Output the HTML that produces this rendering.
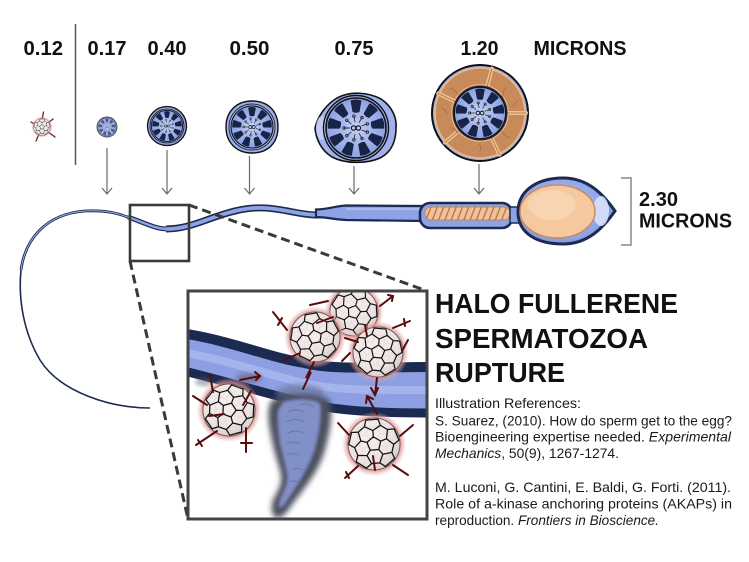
<!DOCTYPE html>
<html><head><meta charset="utf-8"><style>
html,body{margin:0;padding:0;background:#fff;}
svg{display:block;}
</style></head><body>
<svg width="749" height="562" viewBox="0 0 749 562" xmlns="http://www.w3.org/2000/svg" xmlns:xlink="http://www.w3.org/1999/xlink">
<defs>
 <radialGradient id="halo"><stop offset="0.8" stop-color="#d98a8a" stop-opacity="0.9"/><stop offset="1" stop-color="#e8b0b0" stop-opacity="0"/></radialGradient>
 <radialGradient id="hg" cx=".45" cy=".45" r=".6"><stop offset="0" stop-color="#b4c4f6"/><stop offset=".8" stop-color="#8ea2e6"/><stop offset="1" stop-color="#7088d8"/></radialGradient>
 <radialGradient id="axg" cx=".5" cy=".5" r=".5"><stop offset="0" stop-color="#c4cff6"/><stop offset="1" stop-color="#8b9fe2"/></radialGradient>
 <radialGradient id="ballg" cx=".4" cy=".38" r=".65"><stop offset="0" stop-color="#f6eeee"/><stop offset=".7" stop-color="#efe4e4"/><stop offset="1" stop-color="#d9cccc"/></radialGradient>
 <filter id="bl" x="-40%" y="-40%" width="180%" height="180%"><feGaussianBlur stdDeviation="2.2"/></filter>
 <filter id="bl3" x="-40%" y="-40%" width="180%" height="180%"><feGaussianBlur stdDeviation="3"/></filter>
 <filter id="bl1" x="-40%" y="-40%" width="180%" height="180%"><feGaussianBlur stdDeviation="1.5"/></filter>
 <clipPath id="insetclip"><rect x="189.5" y="292.5" width="236" height="225"/></clipPath>
 <clipPath id="helixclip"><rect x="425" y="207" width="85" height="13" rx="6"/></clipPath>

 <g id="fbe"><path fill="none" stroke-linejoin="round" d="M0,-.28 L.266,-.087 L.165,.227 L-.165,.227 L-.266,-.087 Z
 M0,-.28 L0,-.52 M.266,-.087 L.495,-.161 M.165,.227 L.306,.421 M-.165,.227 L-.306,.421 M-.266,-.087 L-.495,-.161
 M-.309,-.694 L0,-.52 L.309,-.694
 M.565,-.509 L.495,-.161 L.756,.079
 M.658,.38 L.306,.421 L.158,.743
 M-.158,.743 L-.306,.421 L-.658,.38
 M-.756,.079 L-.495,-.161 L-.565,-.509
 M.309,-.694 L.565,-.509
 M.756,.079 L.658,.38
 M.158,.743 L-.158,.743
 M-.658,.38 L-.756,.079
 M-.565,-.509 L-.309,-.694
 M-.309,-.694 L-.235,-.941 L.235,-.941 L.309,-.694
 M.565,-.509 L.823,-.514 L.968,-.068 L.756,.079
 M.658,.38 L.743,.624 L.364,.899 L.158,.743
 M-.158,.743 L-.364,.899 L-.743,.624 L-.658,.38
 M-.756,.079 L-.968,-.068 L-.823,-.514 L-.565,-.509"/></g>
 <g id="fb">
  <circle r="1.24" fill="url(#halo)"/>
  <circle r="1" fill="url(#ballg)" stroke="#7a5a5a" stroke-width=".04"/>
  <use xlink:href="#fbe" href="#fbe" transform="rotate(36) scale(.9)" stroke="#e0d6d6" stroke-width=".025"/>
  <use xlink:href="#fbe" href="#fbe" stroke="#111" stroke-width=".048"/>
 </g>

 <path id="blob" d="M-5.5,-27.5 Q0,-29.5 5.5,-27.5 L3.5,-16 Q0,-14.5 -3.5,-16 Z" fill="#172448"/>
 <g id="ax">
  <circle r="30" fill="url(#axg)" stroke="#111" stroke-width="1.6"/>
  <use href="#blob" xlink:href="#blob"/>
  <use href="#blob" xlink:href="#blob" transform="rotate(40)"/>
  <use href="#blob" xlink:href="#blob" transform="rotate(80)"/>
  <use href="#blob" xlink:href="#blob" transform="rotate(120)"/>
  <use href="#blob" xlink:href="#blob" transform="rotate(160)"/>
  <use href="#blob" xlink:href="#blob" transform="rotate(200)"/>
  <use href="#blob" xlink:href="#blob" transform="rotate(240)"/>
  <use href="#blob" xlink:href="#blob" transform="rotate(280)"/>
  <use href="#blob" xlink:href="#blob" transform="rotate(320)"/>
  <path d="M5.64,2.05 L11.28,4.1 M3,5.2 L6,10.39 M-1.04,5.91 L-2.08,11.82 M-4.6,3.86 L-9.19,7.71 M-6,0 L-12,0 M-4.6,-3.86 L-9.19,-7.71 M-1.04,-5.91 L-2.08,-11.82 M3,-5.2 L6,-10.39 M5.64,-2.05 L11.28,-4.1" stroke="#333" stroke-width=".9" fill="none"/>
  <g fill="none" stroke="#222" stroke-width=".8">
   <circle cx="11.28" cy="4.1" r="1.3"/><circle cx="6" cy="10.39" r="1.3"/><circle cx="-2.08" cy="11.82" r="1.3"/><circle cx="-9.19" cy="7.71" r="1.3"/><circle cx="-12" cy="0" r="1.3"/><circle cx="-9.19" cy="-7.71" r="1.3"/><circle cx="-2.08" cy="-11.82" r="1.3"/><circle cx="6" cy="-10.39" r="1.3"/><circle cx="11.28" cy="-4.1" r="1.3"/>
  </g>
  <circle cx="-2.4" cy="0" r="2.2" fill="none" stroke="#111" stroke-width="1.1"/>
  <circle cx="2.4" cy="0" r="2.2" fill="none" stroke="#111" stroke-width="1.1"/>
 </g>
</defs>

<rect width="749" height="562" fill="#fff"/>

<!-- top labels -->
<g font-family="'Liberation Sans', Arial, sans-serif" font-weight="bold" font-size="20" fill="#111">
 <text x="23.5" y="55" textLength="39.5" lengthAdjust="spacingAndGlyphs">0.12</text>
 <text x="87.5" y="55" textLength="39" lengthAdjust="spacingAndGlyphs">0.17</text>
 <text x="147.5" y="55" textLength="39" lengthAdjust="spacingAndGlyphs">0.40</text>
 <text x="229.5" y="55" textLength="40" lengthAdjust="spacingAndGlyphs">0.50</text>
 <text x="334.5" y="55" textLength="39" lengthAdjust="spacingAndGlyphs">0.75</text>
 <text x="460.5" y="55" textLength="38" lengthAdjust="spacingAndGlyphs">1.20</text>
 <text x="533.5" y="55" textLength="93" lengthAdjust="spacingAndGlyphs">MICRONS</text>
 <text x="639" y="206" textLength="39" lengthAdjust="spacingAndGlyphs">2.30</text>
 <text x="639" y="227.5" textLength="93" lengthAdjust="spacingAndGlyphs">MICRONS</text>
</g>

<!-- divider -->
<line x1="75.5" y1="24" x2="75.5" y2="165" stroke="#555" stroke-width="1.5"/>

<!-- 0.12 fullerene icon -->
<g stroke="#7a1a1a" stroke-width="1.3" stroke-linecap="round">
 <line x1="42" y1="120" x2="43.5" y2="112"/>
 <line x1="36" y1="125" x2="31" y2="122"/>
 <line x1="39" y1="134" x2="36" y2="141"/>
 <line x1="48" y1="132" x2="55" y2="137"/>
 <line x1="48" y1="123" x2="53" y2="119"/>
</g>
<use href="#fb" xlink:href="#fb" transform="translate(42,127) scale(8.5)"/>

<!-- 0.17 -->
<circle cx="107" cy="127" r="10" fill="#a7b6ee" stroke="#444" stroke-width=".9"/>
<use href="#ax" xlink:href="#ax" transform="translate(107,127) scale(.3)" opacity=".6"/>

<!-- 0.40 -->
<circle cx="167" cy="126" r="19.5" fill="#91a3e2" stroke="#111" stroke-width="1.3"/>
<circle cx="167" cy="126" r="17" fill="none" stroke="#111" stroke-width=".8"/>
<use href="#ax" xlink:href="#ax" transform="translate(167,126) scale(.52)"/>

<!-- 0.50 -->
<path d="M226,127 C226,112 236,101 252,101 C268,101 278,111 278,127 C278,143 268,153 252,153 C236,153 226,142 226,127 Z" fill="#9cb0ee" stroke="#111" stroke-width="1.4"/>
<circle cx="252" cy="127" r="23" fill="none" stroke="#222" stroke-width=".9"/>
<use href="#ax" xlink:href="#ax" transform="translate(252,127) scale(.7)"/>

<!-- 0.75 -->
<path d="M315,128 C318,115 327,104 337,98 C350,91 368,92 381,99 C392,106 397,118 396,128 C396,140 392,152 380,158 C367,164 345,164 332,157 C322,151 316,140 315,128 Z" fill="#9fb2ee" stroke="#111" stroke-width="1.6"/>
<ellipse cx="322" cy="128" rx="6" ry="12" fill="#c8d2f7" opacity=".8"/>
<circle cx="356" cy="128" r="32.5" fill="none" stroke="#111" stroke-width="1.4"/>
<use href="#ax" xlink:href="#ax" transform="translate(356,128) scale(1)"/>

<!-- 1.20 -->
<circle cx="480" cy="113" r="48" fill="#9fb2ee" stroke="#111" stroke-width="2"/>
<circle cx="480" cy="113" r="36.5" fill="none" stroke="#c88a5a" stroke-width="18"/>
<circle cx="480" cy="113" r="45" fill="none" stroke="#e9b887" stroke-width="1.6"/>
<circle cx="480" cy="113" r="28" fill="none" stroke="#e9b887" stroke-width="1.6"/>
<g transform="translate(480,113)" stroke-linecap="round">
 <path d="M-24.5,-11.4 L-41.7,-19.5 M7,-26.1 L11.9,-44.4 M27,0 L46,0 M11.4,24.5 L19.5,41.7 M-20.7,17.4 L-35.2,29.6" stroke="#eec08f" stroke-width="4"/>
 <path d="M-24.5,-11.4 L-41.7,-19.5 M7,-26.1 L11.9,-44.4 M27,0 L46,0 M11.4,24.5 L19.5,41.7 M-20.7,17.4 L-35.2,29.6" stroke="#a86f45" stroke-width=".8"/>
 <path d="M-30,-25 q6,2 8,7 M25,-25 q-3,5 -2,10 M30,25 q-6,-2 -8,-7 M-30,15 q5,0 8,5 M0,38 q2,-4 -1,-7 M-38,-5 q4,2 5,6 M38,-12 q-4,2 -5,6" stroke="#a56c42" stroke-width=".8" fill="none"/>
</g>
<circle cx="480" cy="113" r="27" fill="#98a9e8" stroke="#222" stroke-width="1"/>
<use href="#ax" xlink:href="#ax" transform="translate(480,113) scale(.86)"/>

<!-- down arrows -->
<g stroke="#6a6a6a" stroke-width="1.2" fill="none">
 <path d="M107,148 V194 M102,188 L107,194 L112,188"/>
 <path d="M167,150 V194 M162,188 L167,194 L172,188"/>
 <path d="M249.5,156 V194 M244.5,188 L249.5,194 L254.5,188"/>
 <path d="M354,166 V194 M349,188 L354,194 L359,188"/>
 <path d="M479,164 V194 M474,188 L479,194 L484,188"/>
</g>

<!-- bracket -->
<path d="M621,178 H631 V245 H621" fill="none" stroke="#888" stroke-width="1.5"/>

<!-- tail -->
<path d="M150,408 C110,408 60,392 40,360 C24,333 18,300 21,270" fill="none" stroke="#1d2b50" stroke-width="1.6"/>
<path d="M21,270 C25,240 45,214 85,211 C105,210 118,213 130,218" fill="none" stroke="#1d2b50" stroke-width="2.8"/>
<path d="M21,270 C25,240 45,214 85,211 C105,210 118,213 130,218" fill="none" stroke="#9db0ee" stroke-width="1"/>
<path d="M128,217 C145,223 155,229 168,229" fill="none" stroke="#1d2b50" stroke-width="4.8"/>
<path d="M166,229 C185,229 200,222 215,217 C235,210 250,207 265,208 C285,209 300,215 318,215 C328,215 334,213 340,211" fill="none" stroke="#1d2b50" stroke-width="7"/>
<path d="M128,217 C145,223 155,229 168,229" fill="none" stroke="#8ea2e6" stroke-width="2.4"/>
<path d="M166,229 C185,229 200,222 215,217 C235,210 250,207 265,208 C285,209 300,215 318,215 C328,215 334,213 340,211" fill="none" stroke="#8ea2e6" stroke-width="3.8"/>
<path d="M316,209.5 C328,209.5 335,206 346,205.5 L422,206 L422,221 L346,220 C334,219.5 326,217 316,217 Z" fill="#8ea2e6" stroke="#1d2b50" stroke-width="2.2"/>
<path d="M346,209 L420,209" stroke="#b4c3f4" stroke-width="2" opacity=".7"/>

<!-- midpiece -->
<rect x="420" y="203" width="92" height="25" rx="10" fill="#8ea2e6" stroke="#1d2b50" stroke-width="2.6"/>
<rect x="425" y="207" width="85" height="13" rx="6" fill="#f0c29a" stroke="#c08658" stroke-width="1"/>
<g clip-path="url(#helixclip)" stroke="#b9784a" stroke-width="1.4">
 <path d="M426,220 L431,207 M432.3,220 L437.3,207 M438.6,220 L443.6,207 M444.9,220 L449.9,207 M451.2,220 L456.2,207 M457.5,220 L462.5,207 M463.8,220 L468.8,207 M470.1,220 L475.1,207 M476.4,220 L481.4,207 M482.7,220 L487.7,207 M489,220 L494,207 M495.3,220 L500.3,207 M501.6,220 L506.6,207 M507.9,220 L512.9,207"/>
</g>
<rect x="510" y="207" width="10" height="16" fill="#8ea2e6" stroke="#1d2b50" stroke-width="1.5"/>

<!-- head -->
<path d="M518,212 C518,190 538,178 563,178 C588,178 603,194 615,211 C603,228 588,244 563,244 C538,244 518,234 518,212 Z" fill="url(#hg)" stroke="#1d2b50" stroke-width="3"/>
<ellipse cx="601" cy="211" rx="8" ry="15" fill="#dde4fb" opacity=".85"/>
<ellipse cx="557.5" cy="211.5" rx="37.5" ry="26.5" fill="#f5c8a0" stroke="#c98d5e" stroke-width="1.5"/>
<ellipse cx="552" cy="205" rx="24" ry="15" fill="#f9d8b7" opacity=".7"/>

<!-- zoom box and dashed lines -->
<rect x="130" y="205" width="59" height="56" fill="none" stroke="#3a3a3a" stroke-width="2.6"/>
<g stroke="#3a3a3a" stroke-width="3" stroke-dasharray="9 5" fill="none">
 <line x1="189" y1="205" x2="427" y2="291"/>
 <line x1="130" y1="261" x2="188" y2="519"/>
</g>

<!-- inset -->
<rect x="188" y="291" width="239" height="228" fill="#fff"/>
<g clip-path="url(#insetclip)">
 <path d="M180,333 C230,340 270,358 305,363 C330,370 380,367 432,367 L432,413 C380,413 340,411 310,404 C270,395 230,382 180,370 Z" fill="#8d9fe2"/>
 <path d="M180,352 C230,360 270,376 308,384 C340,391 380,390 432,390" fill="none" stroke="#b1bef4" stroke-width="8" opacity=".7"/>
 <path d="M180,333 C230,340 270,358 305,363 C330,370 380,367 432,367" fill="none" stroke="#1b2a50" stroke-width="10"/>
 <path d="M180,370 C230,382 270,395 310,404 C340,411 380,413 432,413" fill="none" stroke="#1b2a50" stroke-width="9"/>
 <ellipse cx="249" cy="378" rx="13" ry="5" fill="#5e6272" opacity=".6" filter="url(#bl)"/>
 <ellipse cx="204" cy="382" rx="9" ry="4" fill="#5e6272" opacity=".5" filter="url(#bl)"/>
 <ellipse cx="300" cy="393" rx="24" ry="9" fill="#6d7496" opacity=".6" filter="url(#bl)"/>
 <!-- plume -->
 <path d="M275,400 C290,394 315,394 328,400 C332,408 330,425 327,437 C325,447 322,457 318,465 C312,477 302,490 292,503 C287,510 283,517 277,517 C271,514 272,505 275,498 C280,490 283,483 282,475 C280,465 276,455 274,445 C271,432 268,418 270,408 C271,403 272,401 275,400 Z" fill="#4c505e" stroke="#4c505e" stroke-width="2" filter="url(#bl3)"/>
 <path d="M283,402 C295,398 312,398 320,403 C322,412 320,425 318,436 C316,447 313,456 309,464 C303,476 296,488 288,499 C285,504 282,508 280,508 C278,506 279,502 281,497 C285,489 288,482 287,474 C285,464 282,454 280,444 C278,432 277,418 278,410 Z" fill="#8290c8" filter="url(#bl1)"/>
 <g stroke="#5f6898" stroke-width=".7" fill="none" opacity=".85">
  <path d="M288,412 q8,-4 16,0 M286,422 q9,-5 18,0 M288,433 q8,-4 15,0 M286,444 q7,-4 14,0 M287,455 q6,-3 12,0 M300,405 q8,-3 14,2 M292,470 q5,-3 10,0 M290,482 q4,-2 8,0"/>
 </g>

 <!-- fullerenes -->
 <use href="#fb" xlink:href="#fb" transform="translate(354,312) scale(24) rotate(15)"/>
 <use href="#fb" xlink:href="#fb" transform="translate(315,337) scale(25) rotate(-10)"/>
 <use href="#fb" xlink:href="#fb" transform="translate(378,352) scale(25) rotate(5)"/>
 <use href="#fb" xlink:href="#fb" transform="translate(229,410) scale(26) rotate(20)"/>
 <use href="#fb" xlink:href="#fb" transform="translate(374,444) scale(26) rotate(-5)"/>

 <!-- spikes -->
 <g stroke="#5a0b0b" stroke-width="2" stroke-linecap="round" fill="none">
  <path d="M210,375 L213,392"/>
  <path d="M193,396 L207,405"/>
  <path d="M196,445 L217,431 M198,440 L202,446"/>
  <path d="M246,452 L246,428 M241,443 L252,443"/>
  <path d="M240,380 L260,376 M255,372 L260,376 L256,380"/>
  <path d="M209,416 L224,414"/>
  <path d="M243,405 L251,391"/>
  <path d="M273,312 L287,330 M282,318 L278,325"/>
  <path d="M284,360 L300,353"/>
  <path d="M303,389 L311,372 L306,378 L314,362"/>
  <path d="M317,323 L333,317"/>
  <path d="M310,305 L328,301"/>
  <path d="M380,306 L393,296 M388,295 L393,296 L392,301"/>
  <path d="M365,325 L367,336"/>
  <path d="M393,328 L410,321 M404,319 L405,326"/>
  <path d="M408,340 L402,351"/>
  <path d="M345,338 L358,342"/>
  <path d="M342,361 L350,353"/>
  <path d="M377,378 L375,395 M371,388 L375,395 L378,388"/>
  <path d="M367,396 L377,414 M366,403 L367,396 L373,399"/>
  <path d="M338,423 L349,435"/>
  <path d="M413,425 L400,436"/>
  <path d="M345,478 L358,466 M346,472 L349,478"/>
  <path d="M408,475 L393,465"/>
  <path d="M375,470 L373,456"/>
 </g>
</g>
<rect x="188" y="291" width="239" height="228" fill="none" stroke="#444" stroke-width="3"/>

<!-- heading -->
<g font-family="'Liberation Sans', Arial, sans-serif" font-weight="bold" font-size="27.5" fill="#111">
 <text x="435" y="313" textLength="243" lengthAdjust="spacingAndGlyphs">HALO FULLERENE</text>
 <text x="435" y="348" textLength="213" lengthAdjust="spacingAndGlyphs">SPERMATOZOA</text>
 <text x="435" y="382" textLength="130" lengthAdjust="spacingAndGlyphs">RUPTURE</text>
</g>

<!-- references -->
<g font-family="'Liberation Sans', Arial, sans-serif" font-size="14" fill="#1a1a1a">
 <text x="435" y="408" textLength="146" lengthAdjust="spacingAndGlyphs">Illustration References:</text>
 <text x="435" y="425.5" textLength="297" lengthAdjust="spacingAndGlyphs">S. Suarez, (2010). How do sperm get to the egg?</text>
 <text x="435" y="441.5" textLength="296" lengthAdjust="spacingAndGlyphs">Bioengineering expertise needed. <tspan font-style="italic">Experimental</tspan></text>
 <text x="435" y="458" textLength="184" lengthAdjust="spacingAndGlyphs"><tspan font-style="italic">Mechanics</tspan>, 50(9), 1267-1274.</text>
 <text x="435" y="492" textLength="296" lengthAdjust="spacingAndGlyphs">M. Luconi, G. Cantini, E. Baldi, G. Forti. (2011).</text>
 <text x="435" y="508.5" textLength="297" lengthAdjust="spacingAndGlyphs">Role of a-kinase anchoring proteins (AKAPs) in</text>
 <text x="435" y="525" textLength="224" lengthAdjust="spacingAndGlyphs">reproduction. <tspan font-style="italic">Frontiers in Bioscience.</tspan></text>
</g>
</svg>
</body></html>
